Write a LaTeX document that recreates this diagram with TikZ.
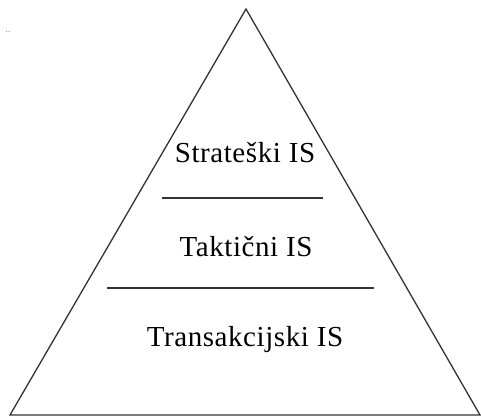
\documentclass[tikz,border=0pt]{standalone}
\usepackage{fontspec}
\setmainfont{Liberation Serif}[LetterSpace=2]
\begin{document}
\begin{tikzpicture}[x=1pt,y=-1pt,
  edge/.style={draw=black!80,line width=1.3pt},
  level/.style={anchor=base,inner sep=0pt,font=\fontsize{29}{33}\selectfont}]
\useasboundingbox (0,0) rectangle (481,417);
% pyramid outline
\coordinate (apex) at (246,9);
\coordinate (bl) at (10,415);
\coordinate (br) at (480,415);
\draw[edge,line join=miter] (apex) -- (bl) -- (br) -- cycle;
% divider lines
\coordinate (d1l) at (162,198);
\coordinate (d1r) at (323,198);
\coordinate (d2l) at (107,288);
\coordinate (d2r) at (374,288);
\draw[edge] (d1l) -- (d1r);
\draw[edge] (d2l) -- (d2r);
% level labels
\node[level] (strat) at (245,162) {Strateški IS};
\node[level] (takt) at (246,256) {Taktični IS};
\node[level] (trans) at (245,346) {Transakcijski IS};
% small mark in the corner
\node[anchor=base,inner sep=0pt,text=black!60,font=\fontsize{9}{10}\selectfont] (dots) at (8,33) {..};
\end{tikzpicture}
\end{document}
